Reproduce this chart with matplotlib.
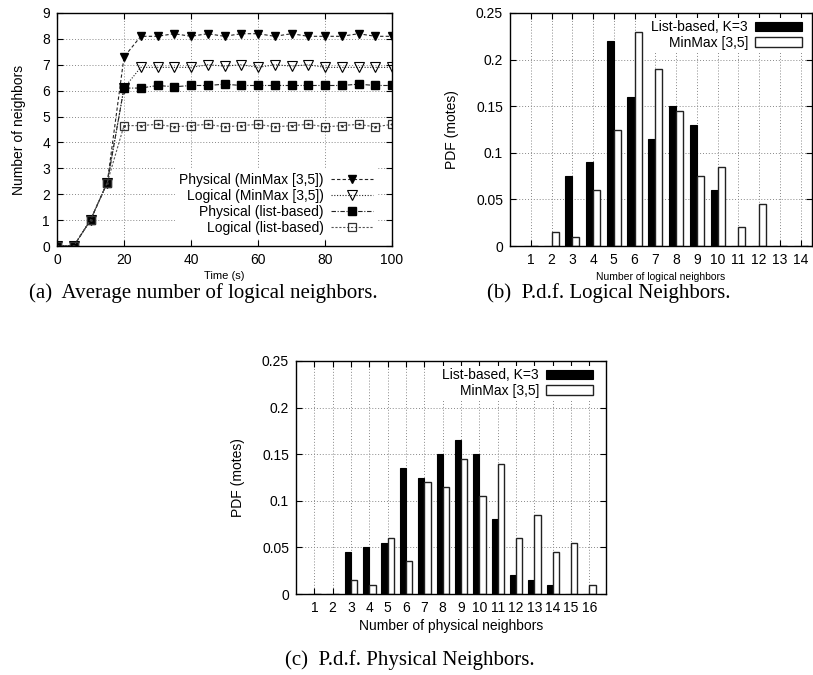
import matplotlib.pyplot as plt
import numpy as np

plt.rcParams['font.family'] = ['Liberation Sans', 'DejaVu Sans']
plt.rcParams['font.size'] = 10

# (a) average number of neighbours over time
time_s = [0, 5, 10, 15, 20, 25, 30, 35, 40, 45, 50, 55, 60, 65, 70, 75, 80, 85, 90, 95, 100]
phys_minmax = [0, 0, 1, 2.45, 7.3, 8.1, 8.1, 8.2, 8.1, 8.2, 8.1, 8.2, 8.2, 8.1, 8.2, 8.1, 8.1, 8.1, 8.2, 8.1, 8.1]
log_minmax = [0, 0, 1, 2.45, 6.1, 6.9, 6.9, 6.9, 6.9, 7.0, 6.95, 7.0, 6.9, 7.0, 6.95, 7.0, 6.9, 6.9, 6.9, 6.9, 6.9]
phys_list = [0, 0, 1, 2.45, 6.1, 6.1, 6.2, 6.15, 6.2, 6.2, 6.25, 6.2, 6.2, 6.2, 6.2, 6.2, 6.2, 6.2, 6.25, 6.2, 6.2]
log_list = [0, 0, 1, 2.45, 4.65, 4.65, 4.7, 4.6, 4.65, 4.7, 4.6, 4.65, 4.7, 4.6, 4.65, 4.7, 4.6, 4.65, 4.7, 4.6, 4.7]

# (b) pdf of logical neighbours
log_n = list(range(1, 15))
log_pdf_list = [0, 0, 0.075, 0.09, 0.22, 0.16, 0.115, 0.15, 0.13, 0.06, 0, 0, 0, 0]
log_pdf_minmax = [0, 0.015, 0.01, 0.06, 0.125, 0.23, 0.19, 0.145, 0.075, 0.085, 0.02, 0.045, 0, 0]

# (c) pdf of physical neighbours
phys_n = list(range(1, 17))
phys_pdf_list = [0, 0, 0.045, 0.05, 0.055, 0.135, 0.125, 0.15, 0.165, 0.15, 0.08, 0.02, 0.015, 0.01, 0, 0]
phys_pdf_minmax = [0, 0, 0.015, 0.01, 0.06, 0.035, 0.12, 0.115, 0.145, 0.105, 0.14, 0.06, 0.085, 0.045, 0.055, 0.01]

W, H = 813, 675
fig = plt.figure(figsize=(W / 100, H / 100), dpi=100)


def box(l, t, r, b):
    return [l / W, 1 - b / H, (r - l) / W, (b - t) / H]


def style(ax):
    ax.grid(True, color='#888888', linestyle=(0, (1, 2)), linewidth=0.7)
    ax.set_axisbelow(True)
    ax.tick_params(direction='in', top=True, right=True, length=4, width=0.8, pad=5,
                   labelsize=10)
    for s in ax.spines.values():
        s.set_linewidth(1.0)


def right_legend(ax, **kw):
    lg = ax.legend(markerfirst=False, frameon=True, edgecolor='none', facecolor='white',
                   framealpha=1, fancybox=False, fontsize=10, **kw)
    for t in lg.get_texts():
        t.set_ha('right')
    lg._legend_box.align = 'right'
    return lg


# ---- panel (a)
ax1 = fig.add_axes(box(57, 13, 392, 246))
lc = '#222222'
ax1.plot(time_s, phys_minmax, color=lc, lw=0.8, ls=(0, (3, 2)), marker='v', ms=5.5,
         mfc='black', mec='black', label='Physical (MinMax [3,5])')
ax1.plot(time_s, log_minmax, color=lc, lw=0.8, ls=(0, (1, 1.5)), marker='v', ms=6.5,
         mfc='none', mec='black', mew=0.8, label='Logical (MinMax [3,5])')
ax1.plot(time_s, phys_list, color=lc, lw=0.8, ls=(0, (4, 1.5, 1, 1.5)), marker='s', ms=6,
         mfc='black', mec='black', label='Physical (list-based)')
ax1.plot(time_s, log_list, color='#555555', lw=0.8, ls=(0, (2, 1.5)), marker='s', ms=6,
         mfc='none', mec='#333333', mew=0.9, label='Logical (list-based)')
# centre dots of the open squares
ax1.plot(time_s, log_list, ls='none', marker='.', ms=2, color='#333333')
ax1.set_xlim(0, 100)
ax1.set_ylim(0, 9)
ax1.set_xticks(range(0, 101, 20))
ax1.set_yticks(range(0, 10))
style(ax1)
ax1.set_xlabel('Time (s)', fontsize=8, labelpad=3)
ax1.set_ylabel('Number of neighbors', labelpad=12)
right_legend(ax1, loc='lower right', bbox_to_anchor=(0.975, 0.0), handlelength=3.0,
             labelspacing=0.15, borderpad=0.3, handletextpad=0.5)

# ---- bar panels
bw = 0.34


def bars(ax, n, a, b, xmax, anchor):
    x = np.array(n)
    ax.bar(x - bw / 2, a, width=bw, color='black', edgecolor='black', lw=0.8,
           label='List-based, K=3')
    ax.bar(x + bw / 2, b, width=bw, color='white', edgecolor='#222222', lw=1.0,
           label='MinMax [3,5]')
    ax.set_xlim(0, xmax)
    ax.set_ylim(0, 0.25)
    ax.set_xticks(n)
    ax.set_yticks([0, 0.05, 0.1, 0.15, 0.2, 0.25])
    ax.set_yticklabels(['0', '0.05', '0.1', '0.15', '0.2', '0.25'])
    style(ax)
    ax.set_ylabel('PDF (motes)', labelpad=12)
    right_legend(ax, loc='upper right', bbox_to_anchor=anchor, handlelength=3.4,
                 handleheight=0.7, labelspacing=0.1, borderpad=0.2, handletextpad=0.5)


ax2 = fig.add_axes(box(510, 13, 812, 246))
bars(ax2, log_n, log_pdf_list, log_pdf_minmax, 14.55, (1.0, 1.01))
ax2.set_xlabel('Number of logical neighbors', fontsize=7.5, labelpad=4)

ax3 = fig.add_axes(box(296, 361, 606, 594))
bars(ax3, phys_n, phys_pdf_list, phys_pdf_minmax, 16.9, (0.99, 1.01))
ax3.set_xlabel('Number of physical neighbors', labelpad=3)

# captions
cap = dict(family=['Liberation Serif', 'DejaVu Serif'], fontsize=15, ha='center', va='center')
fig.text(203 / W, 1 - 293 / H, '(a)  Average number of logical neighbors.', **cap)
fig.text(609 / W, 1 - 293 / H, '(b)  P.d.f. Logical Neighbors.', **cap)
fig.text(410 / W, 1 - 660 / H, '(c)  P.d.f. Physical Neighbors.', **cap)

fig.savefig('out.png', dpi=100)
